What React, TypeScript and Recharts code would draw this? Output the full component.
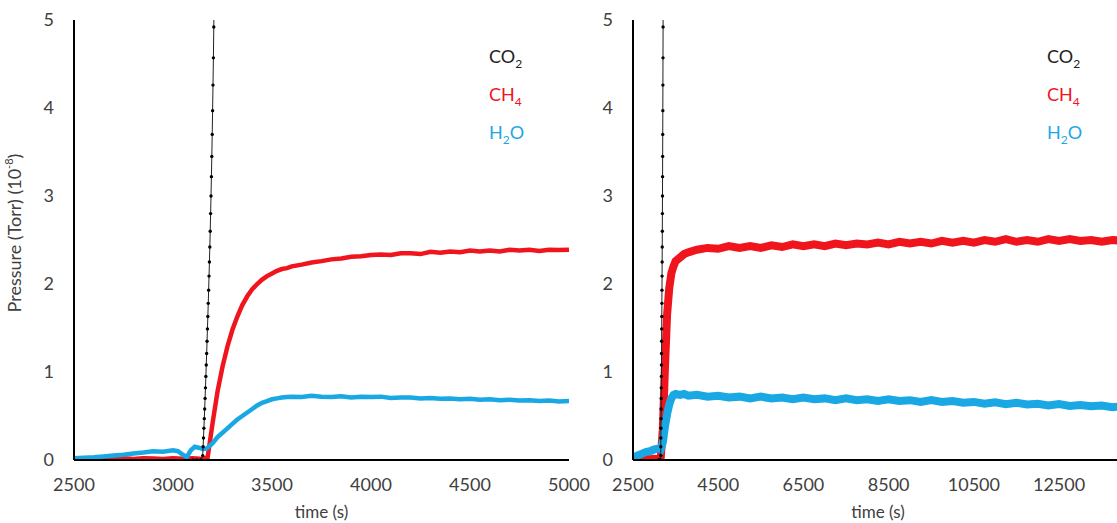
import React from 'react';
import { LineChart, Line, XAxis, YAxis, Legend } from 'recharts';

const FONT = 'Lato, "Open Sans", sans-serif';

// time (s), pressure (1e-8 Torr)
const co2: [number, number][] = [
  [3100, 0], [3120, 0], [3140, 0], [3150, 0.05], [3152, 0.15], [3154, 0.25], [3156, 0.36],
  [3158, 0.47], [3160, 0.58], [3162, 0.7], [3164, 0.82], [3166, 0.95], [3168, 1.08],
  [3170, 1.21], [3172, 1.35], [3174, 1.49], [3176, 1.63], [3178, 1.78], [3180, 1.93],
  [3182, 2.09], [3184, 2.25], [3186, 2.42], [3188, 2.6], [3190, 2.8], [3192, 3.0],
  [3194, 3.22], [3196, 3.45], [3198, 3.7], [3200, 3.97], [3202, 4.26], [3204, 4.57],
  [3206, 4.92], [3208, 5.3],
];

const ch4Left: [number, number][] = [
  [2500, 0], [2550, 0], [2600, 0], [2650, 0.005], [2700, 0.015], [2750, 0.02], [2800, 0.012],
  [2850, 0.02], [2900, 0.018], [2950, 0.012], [3000, 0.02], [3050, 0.015], [3100, 0.02],
  [3150, 0.012], [3175, 0.03], [3200, 0.42], [3225, 0.78], [3250, 1.06], [3275, 1.29],
  [3300, 1.48], [3325, 1.63], [3350, 1.76], [3375, 1.86], [3400, 1.94], [3425, 2.0],
  [3450, 2.05], [3475, 2.09], [3500, 2.12], [3525, 2.15], [3550, 2.17], [3575, 2.18],
  [3600, 2.2], [3650, 2.22], [3700, 2.245], [3750, 2.26], [3800, 2.28], [3850, 2.29],
  [3900, 2.31], [3950, 2.315], [4000, 2.33], [4050, 2.335], [4100, 2.33], [4150, 2.35],
  [4200, 2.35], [4250, 2.34], [4300, 2.365], [4350, 2.355], [4400, 2.37], [4450, 2.36],
  [4500, 2.38], [4550, 2.37], [4600, 2.38], [4650, 2.37], [4700, 2.39], [4750, 2.38],
  [4800, 2.39], [4850, 2.375], [4900, 2.39], [4950, 2.385], [5000, 2.39],
];

const h2oLeft: [number, number][] = [
  [2500, 0.02], [2550, 0.025], [2600, 0.03], [2650, 0.04], [2700, 0.05], [2750, 0.06],
  [2800, 0.075], [2850, 0.085], [2900, 0.1], [2950, 0.095], [3000, 0.11], [3025, 0.1],
  [3050, 0.06], [3070, 0.035], [3090, 0.11], [3110, 0.15], [3130, 0.14], [3150, 0.125],
  [3170, 0.13], [3200, 0.19], [3225, 0.26], [3250, 0.31], [3275, 0.36], [3300, 0.41],
  [3325, 0.46], [3350, 0.5], [3375, 0.54], [3400, 0.58], [3425, 0.62], [3450, 0.65],
  [3475, 0.67], [3500, 0.69], [3525, 0.7], [3550, 0.71], [3575, 0.715], [3600, 0.72],
  [3650, 0.715], [3700, 0.73], [3750, 0.72], [3800, 0.715], [3850, 0.725], [3900, 0.71],
  [3950, 0.72], [4000, 0.715], [4050, 0.72], [4100, 0.705], [4150, 0.71], [4200, 0.71],
  [4250, 0.7], [4300, 0.705], [4350, 0.695], [4400, 0.7], [4450, 0.69], [4500, 0.695],
  [4550, 0.685], [4600, 0.69], [4650, 0.68], [4700, 0.685], [4750, 0.675], [4800, 0.68],
  [4850, 0.67], [4900, 0.675], [4950, 0.665], [5000, 0.67],
];

const ch4Right: [number, number][] = [
  [2500, 0], [2600, 0.005], [2700, 0.01], [2800, 0.015], [2900, 0.01], [3000, 0.015],
  [3100, 0.01], [3150, 0.02], [3200, 0.35], [3250, 1.05], [3300, 1.65], [3350, 1.95],
  [3400, 2.12], [3450, 2.2], [3500, 2.26], [3600, 2.3], [3700, 2.34], [3800, 2.36],
  [4000, 2.39], [4250, 2.41], [4500, 2.4], [4750, 2.43], [5000, 2.41], [5250, 2.43],
  [5500, 2.41], [5750, 2.44], [6000, 2.42], [6250, 2.45], [6500, 2.43], [6750, 2.45],
  [7000, 2.43], [7250, 2.46], [7500, 2.44], [7750, 2.46], [8000, 2.45], [8250, 2.47],
  [8500, 2.45], [8750, 2.48], [9000, 2.46], [9250, 2.48], [9500, 2.46], [9750, 2.49],
  [10000, 2.47], [10250, 2.49], [10500, 2.47], [10750, 2.5], [11000, 2.48], [11250, 2.51],
  [11500, 2.48], [11750, 2.5], [12000, 2.48], [12250, 2.51], [12500, 2.49], [12750, 2.51],
  [13000, 2.49], [13250, 2.5], [13500, 2.48], [13750, 2.5], [14000, 2.49],
];

const h2oRight: [number, number][] = [
  [2500, 0.02], [2600, 0.05], [2700, 0.07], [2800, 0.09], [2900, 0.1], [3000, 0.12],
  [3100, 0.13], [3150, 0.12], [3200, 0.2], [3250, 0.38], [3300, 0.52], [3350, 0.63],
  [3400, 0.7], [3450, 0.74], [3500, 0.75], [3600, 0.74], [3700, 0.75], [3800, 0.73],
  [4000, 0.74], [4250, 0.72], [4500, 0.73], [4750, 0.71], [5000, 0.72], [5250, 0.7],
  [5500, 0.72], [5750, 0.7], [6000, 0.71], [6250, 0.69], [6500, 0.71], [6750, 0.69],
  [7000, 0.7], [7250, 0.68], [7500, 0.7], [7750, 0.68], [8000, 0.69], [8250, 0.67],
  [8500, 0.69], [8750, 0.67], [9000, 0.68], [9250, 0.66], [9500, 0.68], [9750, 0.66],
  [10000, 0.67], [10250, 0.65], [10500, 0.66], [10750, 0.64], [11000, 0.655], [11250, 0.635],
  [11500, 0.65], [11750, 0.63], [12000, 0.64], [12250, 0.62], [12500, 0.635], [12750, 0.615],
  [13000, 0.625], [13250, 0.61], [13500, 0.62], [13750, 0.6], [14000, 0.61],
];

const yTicks = [0, 1, 2, 3, 4, 5];
const leftTicks = [2500, 3000, 3500, 4000, 4500, 5000];
const rightTicks = [2500, 4500, 6500, 8500, 10500, 12500];

const RED = '#f0141c';
const BLUE = '#1aa8e4';
const ORDER = ['CO2', 'CH4', 'H2O'];

const toPoints = (arr: [number, number][]) => arr.map(([t, v]) => ({ t, v }));

const formula = (name: string) =>
  name.split(/(\d)/).map((part, i) =>
    /\d/.test(part) ? (
      <span key={i} style={{ fontSize: 12, position: 'relative', top: 5 }}>{part}</span>
    ) : (
      <React.Fragment key={i}>{part}</React.Fragment>
    )
  );

const renderLegend = (props: any) => {
  const items = [...(props.payload || [])].sort(
    (a: any, b: any) => ORDER.indexOf(a.value) - ORDER.indexOf(b.value)
  );
  return (
    <div style={{ fontFamily: FONT, fontSize: 18 }}>
      {items.map((it: any) => (
        <div key={it.value} style={{ height: 38, lineHeight: '38px', color: it.color, whiteSpace: 'nowrap' }}>
          {formula(it.value)}
        </div>
      ))}
    </div>
  );
};

const YTitle = () => (
  <text transform="translate(21,233) rotate(-90)" textAnchor="middle" fontFamily={FONT} fontSize={18} fill="#404040">
    Pressure (Torr) (10<tspan fontSize={11} dy={-8}>-8</tspan><tspan dy={8}>)</tspan>
  </text>
);

const tickStyle = { fontFamily: FONT, fontSize: 18, fill: '#404040' };

interface PanelProps {
  width: number;
  marginLeft: number;
  marginRight: number;
  domain: [number, number];
  ticks: number[];
  ch4: [number, number][];
  h2o: [number, number][];
  lineWidth: number;
  legendLeft: number;
  showTitle?: boolean;
}

const Panel: React.FC<PanelProps> = ({ width, marginLeft, marginRight, domain, ticks, ch4, h2o, lineWidth, legendLeft, showTitle }) => (
  <LineChart width={width} height={523} margin={{ top: 20, right: marginRight, bottom: 5, left: marginLeft }}>
    <XAxis
      dataKey="t"
      type="number"
      domain={domain}
      ticks={ticks}
      interval={0}
      allowDataOverflow
      height={58}
      tickLine={false}
      tickSize={0}
      tickMargin={18}
      tick={tickStyle}
      axisLine={{ stroke: '#000', strokeWidth: 2 }}
      label={{ value: 'time (s)', position: 'insideBottom', offset: 0, style: { fontFamily: FONT, fontSize: 17, fill: '#404040' } }}
    />
    <XAxis xAxisId="top" orientation="top" type="number" domain={domain} height={0} tick={false} tickLine={false} axisLine={{ stroke: '#000', strokeWidth: 2 }} />
    <YAxis
      type="number"
      domain={[0, 5]}
      ticks={yTicks}
      allowDataOverflow
      width={40}
      tickLine={false}
      tickSize={0}
      tickMargin={20}
      tick={tickStyle}
      axisLine={{ stroke: '#000', strokeWidth: 2 }}
      label={showTitle ? <YTitle /> : undefined}
    />
    <YAxis yAxisId="r" orientation="right" type="number" domain={[0, 5]} width={0} tick={false} tickLine={false} axisLine={{ stroke: '#000', strokeWidth: 2 }} />
    <Legend
      layout="vertical"
      align="center"
      verticalAlign="middle"
      content={renderLegend}
      wrapperStyle={{ left: legendLeft, top: 37, width: 80 }}
    />
    <Line data={toPoints(ch4)} dataKey="v" name="CH4" stroke={RED} strokeWidth={lineWidth} dot={false} isAnimationActive={false} />
    <Line data={toPoints(h2o)} dataKey="v" name="H2O" stroke={BLUE} strokeWidth={lineWidth} dot={false} isAnimationActive={false} />
    <Line
      data={toPoints(co2)}
      dataKey="v"
      name="CO2"
      stroke="#222"
      strokeWidth={1}
      dot={{ r: 1.7, fill: '#000', stroke: 'none' }}
      isAnimationActive={false}
    />
  </LineChart>
);

export default function App() {
  return (
    <div style={{ position: 'absolute', left: 0, top: 0, width: 1117, height: 523, overflow: 'hidden', background: '#fff' }}>
      <div style={{ position: 'absolute', left: 0, top: 0 }}>
        <Panel width={600} marginLeft={34} marginRight={31} domain={[2500, 5000]} ticks={leftTicks} ch4={ch4Left} h2o={h2oLeft} lineWidth={4.5} legendLeft={489} showTitle />
      </div>
      <div style={{ position: 'absolute', left: 560, top: 0 }}>
        <Panel width={593} marginLeft={33} marginRight={30} domain={[2500, 14000]} ticks={rightTicks} ch4={ch4Right} h2o={h2oRight} lineWidth={8} legendLeft={487} />
      </div>
    </div>
  );
}
